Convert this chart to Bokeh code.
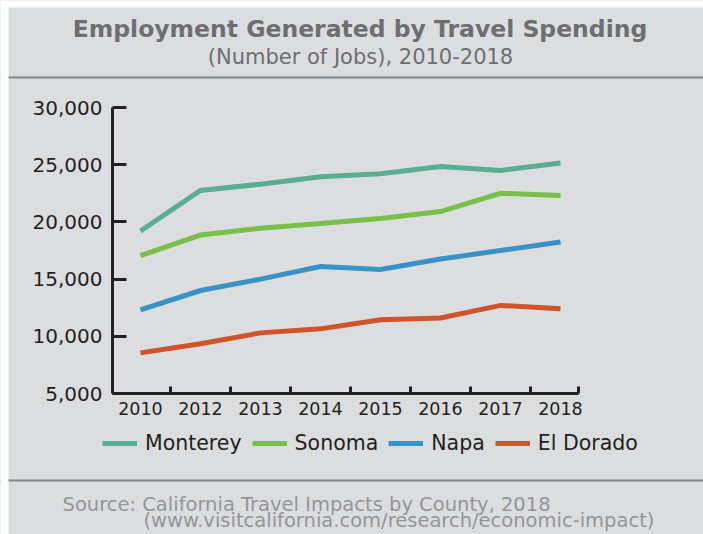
from bokeh.plotting import figure
from bokeh.models import (Range1d, FixedTicker, NumeralTickFormatter, Label, Span,
                          BoxAnnotation, Legend, LegendItem)
from bokeh.embed import file_html
from bokeh.resources import INLINE

# ---------------- data ----------------
years = ["2010", "2012", "2013", "2014", "2015", "2016", "2017", "2018"]
monterey = [19200, 22750, 23300, 23950, 24200, 24850, 24500, 25150]
sonoma = [17050, 18850, 19450, 19850, 20300, 20900, 22500, 22300]
napa = [12300, 14000, 15000, 16100, 15850, 16750, 17500, 18250]
el_dorado = [8550, 9350, 10300, 10650, 11450, 11600, 12700, 12400]
series_names = ["Monterey", "Sonoma", "Napa", "El Dorado"]
y_ticks = [5000, 10000, 15000, 20000, 25000, 30000]

title_text = "Employment Generated by Travel Spending"
subtitle_text = "(Number of Jobs), 2010-2018"
source_line1 = "Source: California Travel Impacts by County, 2018"
source_line2 = "(www.visitcalifornia.com/research/economic-impact)"

# ---------------- style / layout (pixels) ----------------
FONT = "DejaVu Sans"
BG = "#dcdddf"
DARK = "#231f20"
GRAY = "#6d6e71"
LIGHT = "#939598"
RULE = "#838487"
colors = ["#58ae91", "#77c14a", "#3892c3", "#cf532b"]

W, H = 703, 534
AX_LEFT, AX_RIGHT, AX_TOP, AX_BOTTOM = 112, 578, 107, 393   # axis box (px)
X0_PX, X_STEP_PX = 140, 60                                   # first category / spacing

# data <-> pixel mapping, frame = whole canvas
x_lo = (0 - X0_PX) / X_STEP_PX
x_hi = (W - X0_PX) / X_STEP_PX
ax_x_lo = (AX_LEFT - X0_PX) / X_STEP_PX
ax_x_hi = (AX_RIGHT - X0_PX) / X_STEP_PX
y_per_px = (y_ticks[-1] - y_ticks[0]) / (AX_BOTTOM - AX_TOP)
y_lo = y_ticks[0] - (H - AX_BOTTOM) * y_per_px
y_hi = y_ticks[-1] + AX_TOP * y_per_px

p = figure(width=W, height=H, output_backend="svg", toolbar_location=None,
           x_range=Range1d(x_lo, x_hi), y_range=Range1d(y_lo, y_hi),
           min_border=0, background_fill_color=BG, border_fill_color=BG,
           outline_line_color=None)
p.xgrid.visible = False
p.ygrid.visible = False

x = list(range(len(years)))
renderers = []
for vals, color in zip([monterey, sonoma, napa, el_dorado], colors):
    renderers.append(p.line(x, vals, line_color=color, line_width=5, line_join="miter"))

# x axis
xa = p.xaxis[0]
xa.fixed_location = y_ticks[0]
xa.bounds = (ax_x_lo, ax_x_hi)
xa.ticker = FixedTicker(ticks=x, minor_ticks=[i + 0.5 for i in x[:-1]] + [ax_x_hi - 0.001])
xa.major_label_overrides = {i: y for i, y in enumerate(years)}
xa.major_tick_in = 0
xa.major_tick_out = 0
xa.major_tick_line_color = None
xa.minor_tick_in = 7
xa.minor_tick_out = 0
xa.minor_tick_line_width = 3
xa.minor_tick_line_color = DARK
xa.axis_line_width = 3
xa.axis_line_color = DARK
xa.major_label_standoff = 8
xa.major_label_text_font = FONT
xa.major_label_text_font_size = "17.5px"
xa.major_label_text_color = DARK

# y axis
ya = p.yaxis[0]
ya.fixed_location = ax_x_lo
ya.bounds = (y_ticks[0], y_ticks[-1])
ya.ticker = FixedTicker(ticks=y_ticks, minor_ticks=[])
ya.formatter = NumeralTickFormatter(format="0,0")
ya.major_tick_in = 14
ya.major_tick_out = 0
ya.major_tick_line_width = 3
ya.major_tick_line_color = DARK
ya.minor_tick_line_color = None
ya.axis_line_width = 3
ya.axis_line_color = DARK
ya.major_label_standoff = 10
ya.major_label_text_font = FONT
ya.major_label_text_font_size = "20px"
ya.major_label_text_color = DARK

# titles (screen units: from canvas bottom-left)
def lab(text, x_px, base_px, size, color, align="left", bold=False):
    p.add_layout(Label(x=x_px, y=H - base_px, x_units="screen", y_units="screen",
                       text=text, text_align=align, text_baseline="alphabetic",
                       text_font=FONT, text_font_size=size, text_color=color,
                       text_font_style="bold" if bold else "normal"))

lab(title_text, 359.5, 28, "23.5px", GRAY, align="center", bold=True)
lab(subtitle_text, 360, 56, "21px", GRAY, align="center")
lab(source_line1, 62, 504, "19.5px", LIGHT)
lab(source_line2, 143, 520, "19.5px", LIGHT)

# separator rules
for yy in (77, 480):
    p.add_layout(Span(location=H - yy, location_units="screen", dimension="width",
                      line_color=RULE, line_width=2))

# legend
legend = Legend(items=[LegendItem(label=n, renderers=[r]) for n, r in zip(series_names, renderers)],
                location=(102, H - 455), orientation="horizontal", padding=0, margin=0,
                spacing=10, glyph_width=35, glyph_height=22, label_height=22,
                label_standoff=8, label_text_font=FONT, label_text_font_size="20.5px",
                label_text_color=DARK, border_line_color=None, background_fill_alpha=0)
p.add_layout(legend, "center")

# page margin strips (white) as in the reference
p.add_layout(BoxAnnotation(left=0, right=8, bottom=0, top=H, left_units="screen",
                           right_units="screen", bottom_units="screen", top_units="screen",
                           fill_color="white", fill_alpha=1, line_color=None))
p.add_layout(BoxAnnotation(left=0, right=W, bottom=H - 7, top=H, left_units="screen",
                           right_units="screen", bottom_units="screen", top_units="screen",
                           fill_color="white", fill_alpha=1, line_color=None))

open("out.html", "w").write(file_html(p, INLINE))
